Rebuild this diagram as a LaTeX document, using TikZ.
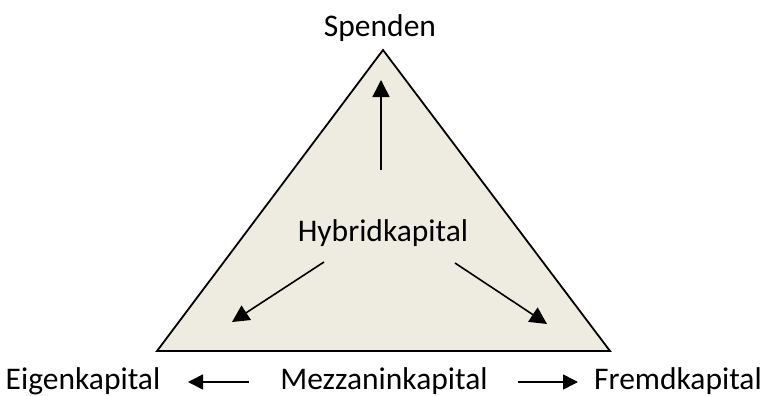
\documentclass[tikz,border=0pt]{standalone}
\usepackage{fontspec}
\setmainfont{Carlito}
\usetikzlibrary{arrows.meta}
\definecolor{paper}{HTML}{EEECE1}
\begin{document}
\begin{tikzpicture}[x=1pt,y=-1pt,
  lbl/.style={inner sep=0pt,anchor=base,font=\fontsize{31.5}{36}\selectfont},
  bigarrow/.style={line width=1.6pt,-{Triangle[length=17pt,width=17pt]}},
  smallarrow/.style={line width=1.6pt,-{Triangle[length=15pt,width=15pt]}}]
\useasboundingbox (0,0) rectangle (766,396);
% triangle
\coordinate (top) at (383,50);
\coordinate (bl) at (157,351);
\coordinate (br) at (610,351);
\draw[fill=paper,line width=1.8pt,line join=miter] (top) -- (bl) -- (br) -- cycle;
% labels
\node[lbl] (spenden) at (380,37) {Spenden};
\node[lbl] (hybrid) at (383,241) {Hybridkapital};
\node[lbl] (eigen) at (83,389) {Eigenkapital};
\node[lbl] (mezz) at (384,389) {Mezzaninkapital};
\node[lbl] (fremd) at (678,389) {Fremdkapital};
% arrows inside the triangle
\coordinate (upS) at (381,170);
\coordinate (upE) at (381,80);
\coordinate (leS) at (324,262);
\coordinate (leE) at (232,322);
\coordinate (riS) at (455,263);
\coordinate (riE) at (547,324);
\draw[bigarrow] (upS) -- (upE);
\draw[bigarrow] (leS) -- (leE);
\draw[bigarrow] (riS) -- (riE);
% arrows along the base line
\coordinate (blS) at (249,382);
\coordinate (blE) at (188,382);
\coordinate (brS) at (518,382);
\coordinate (brE) at (578,382);
\draw[smallarrow] (blS) -- (blE);
\draw[smallarrow] (brS) -- (brE);
\end{tikzpicture}
\end{document}
